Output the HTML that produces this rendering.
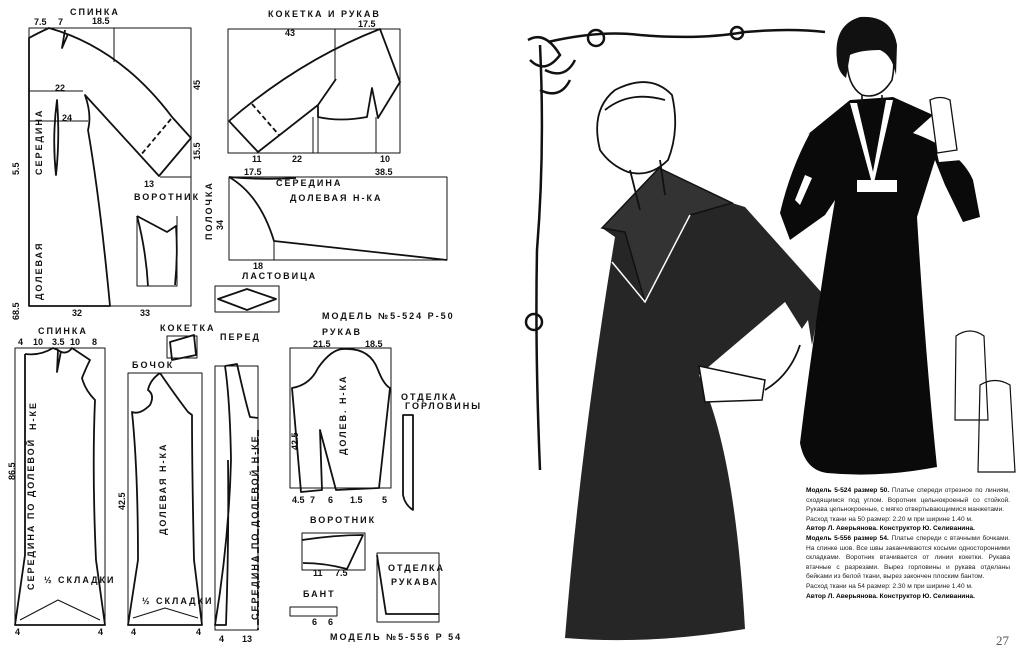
<!DOCTYPE html>
<html><head><meta charset="utf-8"><style>
html,body{margin:0;padding:0;background:#fff;}
svg{display:block}
text{font-family:"Liberation Sans",sans-serif;font-weight:bold;fill:#111}
.t{font-size:9px;letter-spacing:2px}
.n{font-size:9px}
.cap{position:absolute;left:806px;top:486px;width:204px;font:6.6px/9.6px "Liberation Sans",sans-serif;color:#222;text-align:justify}
.cap b{color:#000}
</style></head><body>
<div style="position:relative;width:1024px;height:664px;overflow:hidden">
<svg width="1024" height="664" viewBox="0 0 1024 664">
<g fill="none" stroke="#111" stroke-width="1.8" stroke-linejoin="round">
<g stroke-width="1">
<path d="M29 28H191V306H29Z"/>
<path d="M29 91H83M29 121H88M114 28V62M160 177H191"/>
</g>
<path d="M29 306V38Q38 33 49 28Q120 48 172 117L191 138L159 176L85 95Q92 115 88 130Q100 200 110 306Z"/>
<path d="M171 119L140 156" stroke-dasharray="5 3"/>
<path d="M57 100Q52 138 56 175Q60 138 57 100Z"/>
<path d="M65 30L62 48L68 34"/>
<path d="M137 216V286H177V216" stroke-width="1"/>
<path d="M137 216L167 232L176 226Q178 255 175 285M137 216Q146 250 148 286"/>
<path d="M228 29H400V153H228Z" stroke-width="1"/>
<path d="M335 29V80M313 117V153M318 117V153M376 117V153" stroke-width="1"/>
<path d="M229 121Q300 60 380 29L400 82L378 118L372 88L367 117Q340 122 318 117L318 105L336 79M318 105L258 152L229 121"/>
<path d="M252 104L279 135" stroke-dasharray="5 3"/>
<path d="M229 177H447V260H229Z" stroke-width="1"/>
<path d="M229 177Q260 195 274 241L447 260M229 177Q260 180 296 178"/>
<path d="M274 241V260" stroke-width="1"/>
<path d="M215 286H279V312H215Z" stroke-width="1"/>
<path d="M218 299L247 289L276 299L247 310Z"/>
<path d="M15 348H105V625H15Z" stroke-width="1"/>
<path d="M25 354V555L15 625H105L96 560Q92 470 95 400Q85 390 82 378Q86 368 90 360L72 348Q66 356 58 350L53 348Q40 356 25 354"/>
<path d="M58 350L57 372L61 351"/>
<path d="M20 620L58 600L100 620" stroke-width="1"/>
<path d="M128 373H202V625H128Z" stroke-width="1"/>
<path d="M160 373Q150 380 148 390Q155 395 150 405Q140 415 132 412Q138 470 138 560L128 625H202L194 560Q192 470 192 415L188 412Q175 395 160 373"/>
<path d="M133 618L165 608L198 618" stroke-width="1"/>
<path d="M167 336H197V358H167Z" stroke-width="1"/>
<path d="M170 342L194 335L196 355L172 360Z"/>
<path d="M215 366H258V630H215Z" stroke-width="1"/>
<path d="M225 366L237 364Q245 400 250 417L258 418M225 366Q230 400 231 460Q229 540 215 625H226Q229 540 228 460"/>
<path d="M258 430V630" stroke-dasharray="6 3"/>
<path d="M290 348H391V488H290Z" stroke-width="1"/>
<path d="M292 388Q310 385 318 368Q332 348 345 349Q370 348 378 370Q384 385 390 388L379 488L336 490L320 430L322 490L301 492Z"/>
<path d="M403 415H413V510Q405 505 403 495Z"/>
<path d="M302 533H365V570H302Z" stroke-width="1"/>
<path d="M302 540Q335 535 363 535L347 569Q325 563 303 563"/>
<path d="M377 553H439V622H377Z" stroke-width="1"/>
<path d="M377 555L386 614H439"/>
<path d="M290 607H337V616H290Z" stroke-width="1"/>
</g>
<text x="70" y="15" class="t">СПИНКА</text>
<text x="268" y="17" class="t">КОКЕТКА И РУКАВ</text>
<text x="134" y="200" class="t" font-size="8">ВОРОТНИК</text>
<text x="276" y="186" class="t">СЕРЕДИНА</text>
<text x="290" y="201" class="t">ДОЛЕВАЯ Н-КА</text>
<text x="242" y="279" class="t" font-size="8">ЛАСТОВИЦА</text>
<text x="322" y="319" class="t" font-size="8">МОДЕЛЬ №5-524 Р-50</text>
<text x="38" y="334" class="t" font-size="8">СПИНКА</text>
<text x="160" y="331" class="t" font-size="7">КОКЕТКА</text>
<text x="132" y="368" class="t" font-size="8">БОЧОК</text>
<text x="220" y="340" class="t" font-size="8">ПЕРЕД</text>
<text x="322" y="335" class="t">РУКАВ</text>
<text x="401" y="400" class="t" font-size="7">ОТДЕЛКА</text>
<text x="405" y="409" class="t" font-size="6">ГОРЛОВИНЫ</text>
<text x="310" y="523" class="t" font-size="8">ВОРОТНИК</text>
<text x="388" y="571" class="t" font-size="8">ОТДЕЛКА</text>
<text x="391" y="585" class="t" font-size="8">РУКАВА</text>
<text x="303" y="597" class="t" font-size="8">БАНТ</text>
<text x="330" y="640" class="t" font-size="8">МОДЕЛЬ №5-556 Р 54</text>
<text x="44" y="583" class="t" font-size="8">½ СКЛАДКИ</text>
<text x="142" y="604" class="t" font-size="8">½ СКЛАДКИ</text>
<g class="t" font-size="8">
<text transform="translate(42 300) rotate(-90)">ДОЛЕВАЯ</text>
<text transform="translate(42 175) rotate(-90)">СЕРЕДИНА</text>
<text transform="translate(34 590) rotate(-90)">СЕРЕДИНА ПО ДОЛЕВОЙ</text>
<text transform="translate(36 430) rotate(-90)">Н-КЕ</text>
<text transform="translate(166 535) rotate(-90)">ДОЛЕВАЯ Н-КА</text>
<text transform="translate(258 620) rotate(-90)">СЕРЕДИНА ПО ДОЛЕВОЙ Н-КЕ</text>
<text transform="translate(346 455) rotate(-90)">ДОЛЕВ. Н-КА</text>
<text transform="translate(212 240) rotate(-90)">ПОЛОЧКА</text>
</g>
<g class="n">
<text x="34" y="25">7.5</text><text x="58" y="25">7</text><text x="92" y="24">18.5</text>
<text x="55" y="91">22</text><text x="62" y="121">24</text><text x="144" y="187">13</text>
<text x="72" y="316">32</text><text x="140" y="316">33</text>
<text x="285" y="36">43</text><text x="358" y="27">17.5</text><text x="252" y="162">11</text><text x="292" y="162">22</text><text x="380" y="162">10</text>
<text x="244" y="175">17.5</text><text x="375" y="175">38.5</text><text x="253" y="269">18</text>
<text x="18" y="345">4</text><text x="33" y="345">10</text><text x="52" y="345">3.5</text><text x="70" y="345">10</text><text x="92" y="345">8</text>
<text x="313" y="347">21.5</text><text x="365" y="347">18.5</text>
<text x="292" y="503">4.5</text><text x="310" y="503">7</text><text x="328" y="503">6</text><text x="350" y="503">1.5</text><text x="382" y="503">5</text>
<text x="15" y="635">4</text><text x="98" y="635">4</text><text x="131" y="635">4</text><text x="196" y="635">4</text><text x="219" y="642">4</text><text x="242" y="642">13</text>
<text x="313" y="576">11</text><text x="335" y="576">7.5</text><text x="312" y="625">6</text><text x="328" y="625">6</text>
</g>
<g class="n">
<text transform="translate(19 320) rotate(-90)">68.5</text>
<text transform="translate(19 175) rotate(-90)">5.5</text>
<text transform="translate(200 90) rotate(-90)">45</text>
<text transform="translate(200 160) rotate(-90)">15.5</text>
<text transform="translate(15 480) rotate(-90)">86.5</text>
<text transform="translate(125 510) rotate(-90)">42.5</text>
<text transform="translate(298 450) rotate(-90)">42.5</text>
<text transform="translate(223 230) rotate(-90)">34</text>
</g>

<!-- ornament -->
<g fill="none" stroke="#111" stroke-width="2.5">
<path d="M540 45Q545 150 537 250Q535 350 540 470"/>
<path d="M548 42Q600 30 640 35Q700 40 745 32Q790 28 825 32"/>
<circle cx="596" cy="38" r="8"/><circle cx="737" cy="33" r="6"/><circle cx="534" cy="322" r="8"/>
<path d="M528 40Q545 30 560 55Q545 75 530 60M545 70Q565 80 575 60M540 90Q560 100 570 80"/>
</g>
<!-- left dress -->
<path d="M615 237L602 228L659 168L732 203L745 207L822 293L812 345L785 302L699 375Q735 450 745 629Q650 645 565 638Q580 450 615 237Z" fill="#262626"/>
<path d="M602 228L659 168L732 203L690 215L645 302L625 232Z" fill="#333" stroke="#111" stroke-width="1.5"/>
<path d="M612 262L645 302L690 215" fill="none" stroke="#fff" stroke-width="1.5"/>
<path d="M699 366L765 380L762 400L705 402Z" fill="#fff" stroke="#111" stroke-width="1.5"/>
<path d="M808 320L812 345L790 346Z" fill="#fff"/>
<g fill="none" stroke="#111" stroke-width="1.8">
<path d="M600 150Q590 110 615 90Q650 72 672 95Q680 130 668 160Q650 178 628 172Q610 165 600 150Z"/>
<path d="M605 110Q630 90 665 100M630 170L640 210M660 160L665 195"/>
<path d="M765 390Q790 375 800 345"/>
</g>
<!-- right dress -->
<path d="M810 133L807 135L850 100L893 97L933 115L913 133Q960 150 973 180L980 217L963 222L945 185L935 160L917 217Q925 350 937 467Q880 478 827 473Q805 470 800 443Q815 320 835 200L825 215L790 240L780 213Q790 170 810 133Z" fill="#0a0a0a"/>
<path d="M850 103L873 187L893 100L886 100L873 172L857 103Z" fill="#fff"/>
<path d="M857 180H897V192H857Z" fill="#fff"/>
<path d="M937 153L960 150L962 160L939 162Z" fill="#fff"/>
<path d="M930 100Q940 95 950 100L957 150L937 153Z" fill="#fff" stroke="#111" stroke-width="1.3"/>
<path d="M795 200L805 175L812 178L800 205Z" fill="#fff"/>
<g fill="none" stroke="#111" stroke-width="1.6">
<path d="M847 55Q846 85 862 95Q880 100 892 80Q895 65 893 55"/>
<path d="M862 95V105M882 95V103"/>
<path d="M956 336Q970 326 984 336L988 420H955Z M980 385Q995 376 1010 385L1015 472H978Z" stroke-width="1.2"/>
</g>
<path d="M837 60Q833 25 860 17Q892 15 897 45L896 75Q892 55 880 50Q860 50 850 55L846 78Q838 72 837 60Z" fill="#111"/>
</svg>
<div class="cap"><b>Модель 5-524 размер 50.</b> Платье спереди отрезное по линиям, сходящимся под углом. Воротник цельнокроеный со стойкой. Рукава цельнокроеные, с мягко отвертывающимися манжетами.<br>Расход ткани на 50 размер: 2.20 м при ширине 1.40 м.<br><b>Автор Л. Аверьянова. Конструктор Ю. Селиванина.</b><br><b>Модель 5-556 размер 54.</b> Платье спереди с втачными бочками. На спинке шов. Все швы заканчиваются косыми односторонними складками. Воротник втачивается от линии кокетки. Рукава втачные с разрезами. Вырез горловины и рукава отделаны бейками из белой ткани, вырез закончен плоским бантом.<br>Расход ткани на 54 размер: 2.30 м при ширине 1.40 м.<br><b>Автор Л. Аверьянова. Конструктор Ю. Селиванина.</b></div>
<div style="position:absolute;left:996px;top:633px;font:13px 'Liberation Serif',serif;color:#555">27</div>
</div>
</body></html>
